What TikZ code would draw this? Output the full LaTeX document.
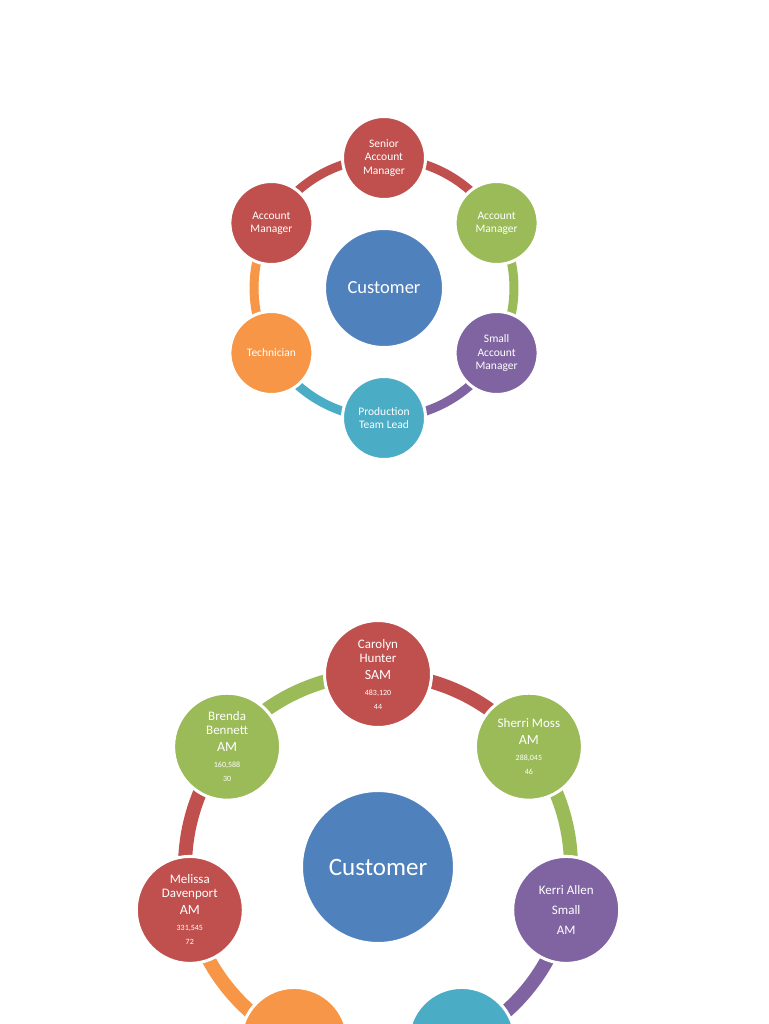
\documentclass[tikz,border=0pt]{standalone}
\usepackage{fontspec}
\setmainfont{Carlito}
\definecolor{cred}{HTML}{C0504D}
\definecolor{cgreen}{HTML}{9BBB59}
\definecolor{cpurple}{HTML}{8064A2}
\definecolor{cteal}{HTML}{4BACC6}
\definecolor{corange}{HTML}{F79646}
\definecolor{cblue}{HTML}{4F81BD}
\newcommand\myrole{\fontsize{14}{17}\selectfont}
\newcommand\mynum{\fontsize{8}{13}\selectfont}
\pgfdeclarelayer{bg}
\pgfsetlayers{bg,main}
\begin{document}
\begin{tikzpicture}[x=1pt,y=1pt,
  topc/.style={circle,draw=white,line width=3pt,inner sep=0pt,minimum size=83pt,
    text=white,align=center,font=\fontsize{11.5}{13.3}\selectfont},
  botc/.style={circle,draw=white,line width=3pt,inner sep=0pt,minimum size=107pt,
    text=white,align=center,font=\fontsize{13}{14}\selectfont},
  topring/.style={line width=9pt},
  botring/.style={line width=14pt},
  tbend/.style={bend left=30,looseness=0.913},
  bbend/.style={bend left=25.71,looseness=0.896}]
\useasboundingbox (0,0) rectangle (768,-1024);

% ---------- top diagram ----------
\node[topc,minimum size=119pt,fill=cblue,font=\fontsize{18.5}{20}\selectfont] (tc) at (384,-288) {Customer};
\node[topc,fill=cred]    (t1) at (384,-158)   {Senior\\Account\\Manager};
\node[topc,fill=cgreen]  (t2) at (496.6,-223) {Account\\Manager};
\node[topc,fill=cpurple] (t3) at (496.6,-353) {Small\\Account\\Manager};
\node[topc,fill=cteal]   (t4) at (384,-418)   {Production\\Team Lead};
\node[topc,fill=corange] (t5) at (271.4,-353) {Technician};
\node[topc,fill=cred]    (t6) at (271.4,-223) {Account\\Manager};
\begin{pgfonlayer}{bg}
\draw[topring,cred]    (t1.center) to[tbend] (t2.center);
\draw[topring,cgreen]  (t2.center) to[tbend] (t3.center);
\draw[topring,cpurple] (t3.center) to[tbend] (t4.center);
\draw[topring,cteal]   (t4.center) to[tbend] (t5.center);
\draw[topring,corange] (t5.center) to[tbend] (t6.center);
\draw[topring,cred]    (t6.center) to[tbend] (t1.center);
\end{pgfonlayer}

% ---------- bottom diagram ----------
\node[botc,minimum size=153pt,fill=cblue,font=\fontsize{25}{28}\selectfont] (bc) at (378,-867) {Customer};
\node[botc,fill=cred] (b1) at (378,-674)
  {Carolyn\\Hunter\\[3pt]\myrole SAM\\[2pt]\mynum 483,120\\\mynum 44};
\node[botc,fill=cgreen] (b2) at (528.9,-746.7)
  {Sherri Moss\\[3pt]\myrole AM\\[2pt]\mynum 288,045\\\mynum 46};
\node[botc,fill=cpurple] (b3) at (566.2,-909.9)
  {Kerri Allen\\[6pt]Small\\[6pt]AM};
\node[botc,fill=cteal]   (b4) at (461.7,-1040.9) {};
\node[botc,fill=corange] (b5) at (294.3,-1040.9) {};
\node[botc,fill=cred] (b6) at (189.8,-909.9)
  {Melissa\\Davenport\\[3pt]\myrole AM\\[2pt]\mynum 331,545\\\mynum 72};
\node[botc,fill=cgreen] (b7) at (227.1,-746.7)
  {Brenda\\Bennett\\[3pt]\myrole AM\\[2pt]\mynum 160,588\\\mynum 30};
\begin{pgfonlayer}{bg}
\draw[botring,cred]    (b1.center) to[bbend] (b2.center);
\draw[botring,cgreen]  (b2.center) to[bbend] (b3.center);
\draw[botring,cpurple] (b3.center) to[bbend] (b4.center);
\draw[botring,cteal]   (b4.center) to[bbend] (b5.center);
\draw[botring,corange] (b5.center) to[bbend] (b6.center);
\draw[botring,cred]    (b6.center) to[bbend] (b7.center);
\draw[botring,cgreen]  (b7.center) to[bbend] (b1.center);
\end{pgfonlayer}
\end{tikzpicture}
\end{document}
